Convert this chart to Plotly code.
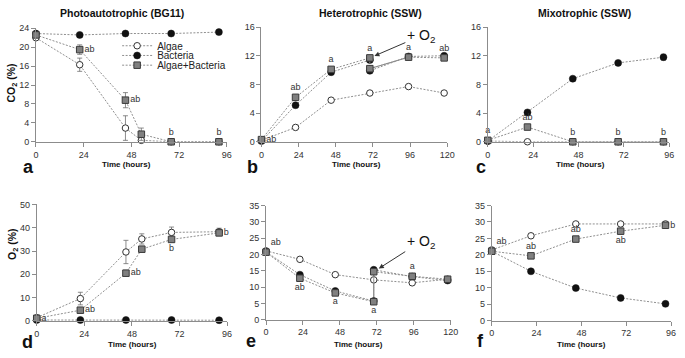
import plotly.graph_objects as go

# ---------------- data ----------------
# Photoautotrophic (BG11)
t_photo = [0, 22, 45, 53, 68, 92]
t_photo_bact = [0, 22, 45, 68, 92]
co2_photo_algae = [22.0, 16.3, 2.9, 0.3, 0.0, 0.0]
co2_photo_algae_err = [0, 1.4, 2.6, 0, 0, 0]
co2_photo_bact = [22.9, 22.6, 22.9, 22.9, 23.2]
co2_photo_mix = [22.6, 19.5, 8.8, 1.6, 0.0, 0.0]
co2_photo_mix_err = [0, 1.0, 1.6, 1.3, 0, 0]
co2_photo_labels = ["", "ab", "ab", "", "b", "b"]
co2_photo_labpos = ["middle right", "middle right", "middle right", "middle right", "top center", "top center"]

o2_photo_algae = [1.4, 9.6, 29.6, 35.2, 38.0, 38.3]
o2_photo_algae_err = [0.5, 2.7, 5.0, 2.2, 2.3, 1.5]
o2_photo_bact = [0.4, 0.4, 0.4, 0.4, 0.3]
o2_photo_mix = [1.1, 4.6, 20.5, 30.8, 35.0, 37.8]
o2_photo_mix_err = [0, 0.5, 1.2, 1.2, 0.5, 1.2]
o2_photo_labels = ["a", "ab", "ab", "", "b", "b"]
o2_photo_labpos = ["middle right", "middle right", "middle right", "middle right", "bottom center", "middle right"]

# Heterotrophic (SSW)  (O2 added at ~70 h -> two readings at 70 h)
t_het = [0, 22, 45, 70, 95, 118]
t_het_o2 = [0, 22, 45, 70, 70, 95, 118]
co2_het_algae = [0.2, 2.0, 5.8, 6.8, 7.7, 6.8]
co2_het_bact = [0.1, 5.1, 9.7, 11.4, 9.9, 11.9, 12.0]
co2_het_mix = [0.3, 6.2, 10.1, 11.7, 10.2, 11.8, 11.7]
co2_het_labels = ["ab", "ab", "a", "a", "", "a", "ab"]
co2_het_labpos = ["middle right", "top center", "top center", "top center", "top center", "top center", "top center"]

o2_het_algae = [21.1, 18.5, 13.8, 12.2, 11.3, 12.4]
o2_het_bact = [20.8, 13.8, 8.8, 5.7, 15.3, 13.2, 12.0]
o2_het_mix = [20.7, 12.7, 8.2, 5.5, 14.7, 13.3, 12.4]
o2_het_labels = ["ab", "ab", "a", "a", "", "a", ""]
o2_het_labpos = ["top right", "bottom center", "bottom center", "bottom center", "top center", "top center", "top center"]

# Mixotrophic (SSW)
t_mix = [0, 21, 45, 69, 93]
co2_mix_algae = [0.1, 0.0, 0.0, 0.0, 0.0]
co2_mix_bact = [0.1, 4.1, 8.8, 11.0, 11.8]
co2_mix_bact_err = [0, 0, 0, 0, 0.4]
co2_mix_mix = [0.2, 2.05, 0.0, 0.0, 0.0]
co2_mix_labels = ["a", "ab", "b", "b", "b"]
co2_mix_labpos = ["top center"] * 5

o2_mix_algae = [21.5, 25.8, 29.4, 29.4, 29.4]
o2_mix_bact = [21.1, 15.0, 9.9, 6.9, 5.1]
o2_mix_mix = [21.1, 19.7, 24.8, 27.2, 29.0]
o2_mix_labels = ["ab", "ab", "ab", "ab", "b"]
o2_mix_labpos = ["top right", "top center", "top center", "bottom center", "middle right"]

panel_titles = ["Photoautotrophic (BG11)", "Heterotrophic (SSW)", "Mixotrophic (SSW)"]
panel_letters = ["a", "b", "c", "d", "e", "f"]
series_names = ["Algae", "Bacteria", "Algae+Bacteria"]

# ---------------- styling ----------------
FONT = "Liberation Sans, Arial, sans-serif"
LINE_C = "#8f8f8f"
AX_C = "#8c8c8c"
TXT_C = "#333333"
DASH = "2px,1.5px"

W, H = 685, 358

def px_x(p):
    return p / W

def px_y(p):
    return 1 - p / H

fig = go.Figure()
legend_ids = ["legend", "legend2", "legend3"]

def add_series(xref, yref, xs, ys, kind, err=None, labels=None, labpos=None, showlegend=False):
    if kind == 0:
        marker = dict(symbol="circle", size=6.5, color="white", line=dict(color="#333333", width=1))
    elif kind == 1:
        marker = dict(symbol="circle", size=7, color="#111111", line=dict(color="#111111", width=0.5))
    else:
        marker = dict(symbol="square", size=6.5, color="#808080", line=dict(color="#3a3a3a", width=1))
    kw = {}
    if err is not None:
        kw["error_y"] = dict(type="data", array=err, visible=True, color="#6e6e6e", thickness=0.8, width=2.5)
    fig.add_trace(go.Scatter(
        x=xs, y=ys, mode="lines+markers", xaxis=xref, yaxis=yref,
        name=series_names[kind], legend=legend_ids[kind], showlegend=showlegend,
        line=dict(color=LINE_C, width=1, dash=DASH), marker=marker, cliponaxis=False, **kw))
    if labels is not None:
        idx = [i for i, s in enumerate(labels) if s]
        fig.add_trace(go.Scatter(
            x=[xs[i] for i in idx], y=[ys[i] for i in idx], mode="markers+text", xaxis=xref, yaxis=yref,
            marker=dict(size=6, opacity=0),
            text=[labels[i] for i in idx], textposition=[labpos[i] for i in idx],
            textfont=dict(family=FONT, size=9, color=TXT_C), showlegend=False, cliponaxis=False,
            hoverinfo="skip"))

def add_solid(xref, yref, xs, ys):
    fig.add_trace(go.Scatter(x=xs, y=ys, mode="lines", xaxis=xref, yaxis=yref,
                             line=dict(color="#7a7a7a", width=1), showlegend=False, hoverinfo="skip"))

# panel a
add_series("x", "y", t_photo, co2_photo_algae, 0, err=co2_photo_algae_err, showlegend=True)
add_series("x", "y", t_photo_bact, co2_photo_bact, 1, showlegend=True)
add_series("x", "y", t_photo, co2_photo_mix, 2, err=co2_photo_mix_err, labels=co2_photo_labels, labpos=co2_photo_labpos, showlegend=True)
# panel b (segment after the O2 addition drawn solid)
add_solid("x2", "y2", t_het_o2[4:6], co2_het_mix[4:6])
add_series("x2", "y2", t_het, co2_het_algae, 0)
add_series("x2", "y2", t_het_o2, co2_het_bact, 1)
add_series("x2", "y2", t_het_o2, co2_het_mix, 2, labels=co2_het_labels, labpos=co2_het_labpos)
# panel c
add_series("x3", "y3", t_mix, co2_mix_algae, 0)
add_series("x3", "y3", t_mix, co2_mix_bact, 1, err=co2_mix_bact_err)
add_series("x3", "y3", t_mix, co2_mix_mix, 2, labels=co2_mix_labels, labpos=co2_mix_labpos)
# panel d
add_series("x4", "y4", t_photo, o2_photo_algae, 0, err=o2_photo_algae_err)
add_series("x4", "y4", t_photo_bact, o2_photo_bact, 1)
add_series("x4", "y4", t_photo, o2_photo_mix, 2, err=o2_photo_mix_err, labels=o2_photo_labels, labpos=o2_photo_labpos)
# panel e: solid segment at the O2 addition
add_solid("x5", "y5", t_het_o2[3:5], o2_het_mix[3:5])
add_series("x5", "y5", t_het, o2_het_algae, 0)
add_series("x5", "y5", t_het_o2, o2_het_bact, 1)
add_series("x5", "y5", t_het_o2, o2_het_mix, 2, labels=o2_het_labels, labpos=o2_het_labpos)
# panel f
add_series("x6", "y6", t_mix, o2_mix_algae, 0)
add_series("x6", "y6", t_mix, o2_mix_bact, 1)
add_series("x6", "y6", t_mix, o2_mix_mix, 2, labels=o2_mix_labels, labpos=o2_mix_labpos)

def xax(d0, d1, rmax, anchor):
    return dict(domain=[px_x(d0), px_x(d1)], range=[0, rmax], tick0=0, dtick=24, anchor=anchor,
                showline=True, linecolor=AX_C, linewidth=1, ticks="outside", ticklen=4, tickcolor=AX_C,
                showgrid=False, zeroline=False, ticklabeloverflow="allow",
                tickfont=dict(family=FONT, size=9, color=TXT_C))

def yax(p_bottom, p_top, rmax, dt, anchor):
    return dict(domain=[px_y(p_bottom), px_y(p_top)], range=[0, rmax], tick0=0, dtick=dt, anchor=anchor,
                showline=True, linecolor=AX_C, linewidth=1, ticks="outside", ticklen=4, tickcolor=AX_C,
                showgrid=False, zeroline=False, ticklabeloverflow="allow",
                tickfont=dict(family=FONT, size=9, color=TXT_C))

def leg(top):
    return dict(x=px_x(116), y=px_y(top), xanchor="left", yanchor="top",
                bgcolor="rgba(0,0,0,0)", font=dict(family=FONT, size=10, color="#222222"),
                itemwidth=30)

layout = dict(
    width=W, height=H, margin=dict(l=0, r=0, t=0, b=0),
    paper_bgcolor="white", plot_bgcolor="white",
    font=dict(family=FONT, color=TXT_C),
    xaxis=xax(33.5, 227.5, 96, "y"),
    yaxis=yax(140.7, 24, 24, 4, "x"),
    xaxis2=xax(262.7, 451.5, 120, "y2"),
    yaxis2=yax(140.7, 22.7, 16, 4, "x2"),
    xaxis3=xax(492.7, 677.0, 96, "y3"),
    yaxis3=yax(140.7, 22.7, 16, 4, "x3"),
    xaxis4=xax(34.3, 227.7, 96, "y4"),
    yaxis4=yax(325, 205.2, 50, 10, "x4"),
    xaxis5=xax(267.3, 455, 120, "y5"),
    yaxis5=yax(323.7, 206.3, 35, 5, "x5"),
    xaxis6=xax(496.7, 679, 96, "y6"),
    yaxis6=yax(324.7, 206.3, 35, 5, "x6"),
    legend=leg(27), legend2=leg(37), legend3=leg(47),
    showlegend=True,
    hovermode=False,
)
fig.update_layout(**layout)

ann = []
# panel titles
for cx, title in zip([121, 373.5, 591], panel_titles):
    ann.append(dict(text="<b>%s</b>" % title, x=px_x(cx), y=px_y(8), xref="paper", yref="paper",
                    showarrow=False, font=dict(family=FONT, size=10.5, color="#111111"),
                    xanchor="center", yanchor="middle"))
# x axis titles
for cx, cy in [(126, 164), (359, 164), (586.7, 164), (131.7, 349.7), (361.7, 349.7), (588.3, 349.7)]:
    ann.append(dict(text="<b>Time (hours)</b>", x=px_x(cx), y=px_y(cy), xref="paper", yref="paper",
                    showarrow=False, font=dict(family=FONT, size=8, color="#111111"),
                    xanchor="center", yanchor="middle"))
# y axis titles
ann.append(dict(text="<b>CO<sub>2</sub> (%)</b>", x=px_x(9), y=px_y(80), xref="paper", yref="paper",
                showarrow=False, textangle=-90, font=dict(family=FONT, size=10.5, color="#111111"),
                xanchor="center", yanchor="middle"))
ann.append(dict(text="<b>O<sub>2</sub> (%)</b>", x=px_x(10), y=px_y(246), xref="paper", yref="paper",
                showarrow=False, textangle=-90, font=dict(family=FONT, size=10.5, color="#111111"),
                xanchor="center", yanchor="middle"))
# panel letters
for (cx, cy), letter in zip([(26, 167), (254, 167), (486, 167), (25, 347), (252, 346), (485, 346)], panel_letters):
    ann.append(dict(text="<b>%s</b>" % letter, x=px_x(cx), y=px_y(cy), xref="paper", yref="paper",
                    showarrow=False, font=dict(family=FONT, size=18, color="#111111"),
                    xanchor="center", yanchor="middle"))
# O2 addition arrows
ann.append(dict(text="+ O<sub>2</sub>", x=t_het_o2[3], y=co2_het_mix[3], xref="x2", yref="y2",
                ax=51, ay=-22, showarrow=True, arrowhead=2, arrowsize=1, arrowwidth=1,
                arrowcolor="#333333", standoff=5, font=dict(family=FONT, size=14, color="#111111")))
ann.append(dict(text="+ O<sub>2</sub>", x=t_het_o2[4], y=o2_het_mix[4], xref="x5", yref="y5",
                ax=47, ay=-30, showarrow=True, arrowhead=2, arrowsize=1, arrowwidth=1,
                arrowcolor="#333333", standoff=6, font=dict(family=FONT, size=14, color="#111111")))
fig.update_layout(annotations=ann)

fig.write_html("out.html", config={"displayModeBar": False},
               post_script="document.body.style.margin='0';document.body.style.overflow='hidden';")
